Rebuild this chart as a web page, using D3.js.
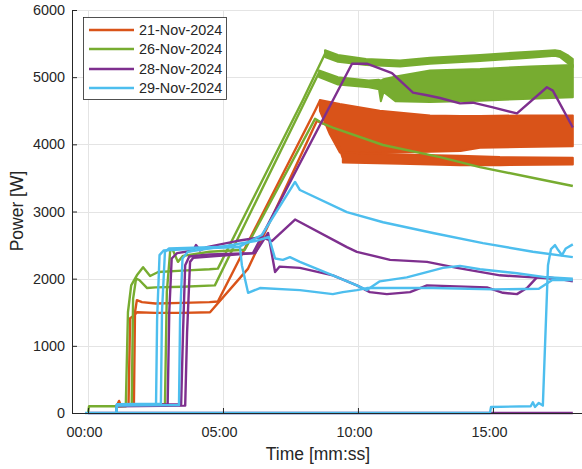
<!DOCTYPE html>
<html>
<head>
<meta charset="utf-8">
<script src="https://cdn.jsdelivr.net/npm/d3@7"></script>
<style>
body { margin: 0; background: #fff; }
text { font-family: "Liberation Sans", Arial, Helvetica, sans-serif; fill: #262626; }
</style>
</head>
<body>
<script>

/* legend / colours */
var dates = ["21-Nov-2024", "26-Nov-2024", "28-Nov-2024", "29-Nov-2024"];
var colors = ["#D95319", "#77AC30", "#7E2F8E", "#4DBEEE"];

/* axis ticks */
var yTicks = [0, 1000, 2000, 3000, 4000, 5000, 6000];
var xTicks = [0, 5, 10, 15];   // minutes
var xMin = -0.593, xMax = 18.3;

/* runs: [time in minutes, power W]; bands: [time, low W, high W] for the noisy parts */

/* 21-Nov */
var o1 = [[1.05,0],[1.07,110],[1.15,180],[1.22,110],[1.70,120],[1.74,1500],[1.81,1680],[2.0,1650],[2.5,1630],[3.5,1640],[4.5,1650],[4.81,1660],[8.41,4500],[8.59,4650]];
var o1Band = [[8.59,4500,4660],[8.96,4150,4630],[9.33,3880,4600],[10.81,3870,4500],[12.67,3890,4430],[13.8,3900,4420],[14.52,3950,4420],[16.0,3960,4430],[17.96,3970,4430]];
var o2 = [[1.05,0],[1.07,100],[1.50,110],[1.56,1410],[1.70,1450],[1.81,1500],[2.5,1490],[3.5,1490],[4.52,1500],[5.93,2150],[8.48,4350],[9.07,4250],[9.44,3800]];
var o2Band = [[9.44,3730,3880],[11.56,3710,3850],[13.78,3690,3830],[15.26,3690,3810],[17.96,3700,3800]];

/* 26-Nov */
var g1 = [[0,0],[0.04,100],[1.40,100],[1.48,1500],[1.60,1900],[1.81,2050],[2.04,2170],[2.30,2040],[2.60,2100],[3.5,2120],[4.5,2140],[4.81,2150],[7.96,4660],[8.78,5350]];
var g1Band = [[8.78,5300,5400],[9.26,5230,5330],[10.3,5180,5270],[11.56,5160,5250],[12.67,5200,5290],[14.52,5240,5330],[16.37,5290,5380],[17.3,5320,5400],[17.48,5300,5390],[17.8,5200,5320],[17.96,5150,5270]];
var g2 = [[1.05,0],[1.07,110],[1.62,130],[1.67,1700],[1.78,2000],[1.90,1980],[2.19,1860],[2.5,1870],[3.5,1880],[4.70,1900],[8.56,5070]];
var g2Band = [[8.56,5000,5100],[9.26,4890,5000],[10.4,4850,4950],[10.78,4820,4960],[10.85,4640,4950],[10.95,4780,4970],[11.4,4640,5010],[12.67,4630,5100],[14.52,4650,5120],[16.37,4680,5160],[17.96,4700,5180]];
var g3 = [[1.05,0],[1.07,120],[2.85,130],[2.92,1800],[3.05,2440],[3.15,2420],[3.33,2250],[3.52,2340],[4.5,2400],[5.81,2430],[8.41,4380],[8.7,4310],[9.07,4250],[10.93,3990],[13.04,3810],[14.52,3660],[16.37,3510],[17.96,3380]];

/* 28-Nov */
var p1 = [[1.05,0],[1.07,120],[3.45,130],[3.52,1200],[3.60,2200],[3.75,2330],[4.5,2360],[6.11,2380],[9.78,5200],[10.33,5200],[11.19,5070],[11.26,5060],[12.04,4770],[12.56,4730],[13.04,4690],[13.78,4610],[14.26,4620],[15.0,4550],[15.89,4460],[17.0,4850],[17.22,4800],[17.96,4250]];
var p2 = [[1.05,0],[1.07,110],[2.95,120],[3.01,1500],[3.10,2300],[3.3,2380],[3.9,2420],[4.0,2500],[4.15,2420],[4.4,2470],[5.5,2560],[6.44,2620],[6.81,2560],[7.67,2880],[9.59,2470],[9.96,2400],[11.19,2280],[12.56,2250],[13.67,2160],[15.26,2050],[16.48,2020],[17.96,1980]];
var p3 = [[1.05,0],[1.07,100],[3.60,110],[3.67,1200],[3.78,2250],[3.9,2310],[4.5,2330],[6.19,2380],[6.67,2680],[6.93,2100],[7.10,2180],[7.85,2160],[9.07,2050],[9.96,1900],[10.44,1800],[11.07,1770],[11.93,1800],[12.56,1900],[14.78,1870],[15.37,1790],[15.89,1770],[16.26,1860],[16.63,2020],[17.11,2020],[17.96,1960]];
var p4 = [[0,0],[17.96,0]];

/* 29-Nov */
var c1 = [[1.05,0],[1.07,130],[2.70,140],[2.74,1500],[2.85,2400],[3.0,2450],[4.5,2470],[5.63,2480],[6.44,2650],[7.67,3440],[7.85,3320],[9.59,2990],[10.93,2840],[12.78,2680],[14.63,2530],[16.48,2400],[17.96,2320]];
var c2 = [[1.05,0],[1.07,110],[3.37,120],[3.41,1400],[3.50,2300],[3.7,2400],[5.0,2480],[6.2,2560],[6.7,2620],[6.93,2300],[7.22,2280],[7.48,2320],[7.85,2250],[9.07,2050],[9.96,1900],[10.33,1830],[10.81,1960],[11.81,2020],[13.15,2160],[13.78,2190],[14.52,2140],[15.89,2080],[17.0,2020],[17.96,2000]];
var c4 = [[1.05,0],[1.07,120],[2.52,130],[2.56,1400],[2.65,2350],[2.8,2420],[4.0,2450],[5.63,2470],[5.70,2200],[5.93,1790],[6.37,1860],[7.85,1830],[9.07,1770],[9.44,1800],[9.96,1830],[10.33,1860],[12.78,1860],[15.0,1840],[16.7,1850],[17.2,1980],[17.96,1980]];
var c3 = [[-0.11,0],[14.89,0],[14.93,90],[16.40,100],[16.48,160],[16.56,90],[16.70,150],[16.85,110],[16.93,1000],[17.04,2200],[17.15,2440],[17.30,2500],[17.41,2430],[17.56,2350],[17.70,2450],[17.96,2510]];

/* draw order (same as legend order) */
var runs = [
    {d: 0, line: o1, band: o1Band},
    {d: 0, line: o2, band: o2Band},
    {d: 1, line: g1, band: g1Band},
    {d: 1, line: g2, band: g2Band},
    {d: 1, line: g3},
    {d: 2, line: p4},
    {d: 2, line: p3},
    {d: 2, line: p2},
    {d: 2, line: p1},
    {d: 3, line: c4},
    {d: 3, line: c2},
    {d: 3, line: c1},
    {d: 3, line: c3}
];

var W = 582, H = 469;
var svg = d3.select("body").append("svg")
    .attr("width", W)
    .attr("height", H);

var x = d3.scaleLinear().domain([xMin, xMax]).range([72, 582]);
var y = d3.scaleLinear().domain([0, 6000]).range([413, 10]);

function fmt(m) {
    var mm = Math.floor(m), ss = Math.round((m - mm) * 60);
    return d3.format("02d")(mm) + ":" + d3.format("02d")(ss);
}

/* grid */
var grid = svg.append("g").attr("stroke", "#e4e4e4").attr("stroke-width", 1);
grid.selectAll(".gy").data(yTicks.slice(1)).enter().append("line")
    .attr("x1", 72).attr("x2", 582)
    .attr("y1", function (d) { return Math.round(y(d)) + 0.5; })
    .attr("y2", function (d) { return Math.round(y(d)) + 0.5; });
grid.selectAll(".gx").data(xTicks).enter().append("line")
    .attr("y1", 10).attr("y2", 413)
    .attr("x1", function (d) { return Math.round(x(d)) + 0.5; })
    .attr("x2", function (d) { return Math.round(x(d)) + 0.5; });

/* data */
svg.append("clipPath").attr("id", "clip")
    .append("rect").attr("x", 72).attr("y", 8).attr("width", 510).attr("height", 407);

var plot = svg.append("g").attr("clip-path", "url(#clip)");

var line = d3.line()
    .x(function (d) { return x(d[0]); })
    .y(function (d) { return y(d[1]); });

var area = d3.area()
    .x(function (d) { return x(d[0]); })
    .y0(function (d) { return y(d[1]); })
    .y1(function (d) { return y(d[2]); });

runs.forEach(function (r) {
    var c = colors[r.d];
    plot.append("path")
        .attr("d", line(r.line))
        .attr("fill", "none")
        .attr("stroke", c)
        .attr("stroke-width", 2.4)
        .attr("stroke-linejoin", "round");
    if (r.band) {
        plot.append("path")
            .attr("d", area(r.band))
            .attr("fill", c)
            .attr("stroke", c)
            .attr("stroke-width", 2)
            .attr("stroke-linejoin", "round");
    }
});

/* axes */
var yAxis = d3.axisLeft(y).tickValues(yTicks).tickFormat(d3.format("d"))
    .tickSize(-5).tickSizeOuter(0).tickPadding(7);
var yg = svg.append("g").attr("transform", "translate(72,0)").call(yAxis);

var xAxis = d3.axisBottom(x).tickValues(xTicks).tickFormat(fmt)
    .tickSize(-5).tickSizeOuter(0).tickPadding(14);
var xg = svg.append("g").attr("transform", "translate(0,413)").call(xAxis);

[yg, xg].forEach(function (g) {
    g.select(".domain").attr("stroke", "#262626");
    g.selectAll(".tick line").attr("stroke", "#262626");
    g.selectAll("text").style("font-size", "14.4px").attr("fill", "#262626");
});
xg.selectAll("text").attr("dx", -4);

/* labels */
svg.append("text")
    .attr("transform", "translate(23,211) rotate(-90)")
    .attr("text-anchor", "middle")
    .style("font-size", "17.5px")
    .text("Power [W]");

svg.append("text")
    .attr("x", 318).attr("y", 460)
    .attr("text-anchor", "middle")
    .style("font-size", "17.5px")
    .text("Time [mm:ss]");

/* legend */
var leg = svg.append("g");
leg.append("rect")
    .attr("x", 83.5).attr("y", 17.5).attr("width", 143).attr("height", 82)
    .attr("fill", "#fff").attr("stroke", "#262626").attr("stroke-width", 0.8);

var legY = [30, 49, 69, 88];
dates.forEach(function (d, i) {
    leg.append("line")
        .attr("x1", 89).attr("x2", 134)
        .attr("y1", legY[i]).attr("y2", legY[i])
        .attr("stroke", colors[i]).attr("stroke-width", 2.4);
    leg.append("text")
        .attr("x", 139).attr("y", legY[i]).attr("dy", "0.36em")
        .style("font-size", "14.4px")
        .text(d);
});

</script>
</body>
</html>
